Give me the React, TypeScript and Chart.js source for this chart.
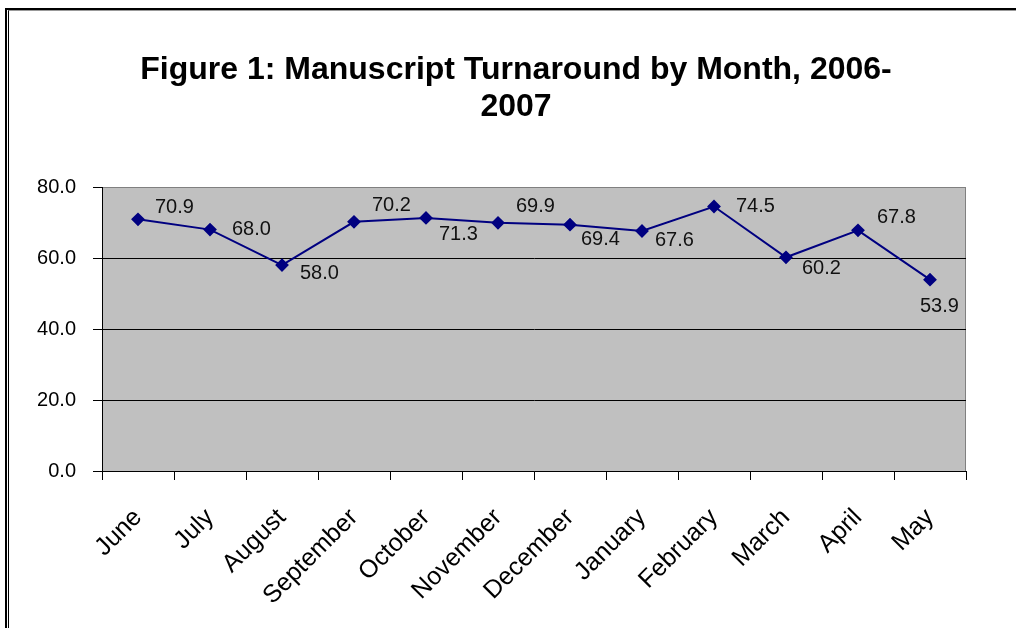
import React, { useEffect, useRef } from "react";
import { Chart, registerables } from "chart.js";

Chart.register(...registerables);

const months = ["June", "July", "August", "September", "October", "November", "December", "January", "February", "March", "April", "May"];
const turnaround = [70.9, 68.0, 58.0, 70.2, 71.3, 69.9, 69.4, 67.6, 74.5, 60.2, 67.8, 53.9];
const titleLines = ["Figure 1: Manuscript Turnaround by Month, 2006-", "2007"];
// label placement relative to each point: [dx to left edge, dy to text middle]
const labelOffsets: [number, number][] = [
  [17, -12], [22, 0], [18, 8], [18, -16], [13, 17], [18, -16],
  [11, 15], [13, 9], [22, 0], [16, 11], [19, -13], [-10, 27],
];

const FONT = "'Liberation Sans', Arial, sans-serif";

const plotBg = {
  id: "plotBg",
  beforeDraw(chart: any) {
    const { ctx, chartArea: a } = chart;
    ctx.save();
    ctx.fillStyle = "#C0C0C0";
    ctx.fillRect(a.left, a.top, a.right - a.left, a.bottom - a.top);
    ctx.strokeStyle = "#808080";
    ctx.lineWidth = 1;
    ctx.beginPath();
    ctx.moveTo(a.left, a.top + 0.5);
    ctx.lineTo(a.right - 0.5, a.top + 0.5);
    ctx.lineTo(a.right - 0.5, a.bottom);
    ctx.stroke();
    ctx.restore();
  },
};

const chartTitle = {
  id: "chartTitle",
  afterDraw(chart: any) {
    const { ctx } = chart;
    ctx.save();
    ctx.font = `bold 32px ${FONT}`;
    ctx.fillStyle = "#000";
    ctx.textAlign = "center";
    ctx.textBaseline = "alphabetic";
    titleLines.forEach((line, i) => ctx.fillText(line, 516, 79 + i * 37));
    ctx.restore();
  },
};

const valueLabels = {
  id: "valueLabels",
  afterDatasetsDraw(chart: any) {
    const { ctx } = chart;
    const meta = chart.getDatasetMeta(0);
    ctx.save();
    ctx.font = `20px ${FONT}`;
    ctx.fillStyle = "#111";
    ctx.textAlign = "left";
    ctx.textBaseline = "middle";
    meta.data.forEach((pt: any, i: number) => {
      const v = turnaround[i];
      const [dx, dy] = labelOffsets[i];
      ctx.fillText(v.toFixed(1), pt.x + dx, pt.y + dy);
    });
    ctx.restore();
  },
};

export default function App() {
  const ref = useRef<HTMLCanvasElement>(null);
  useEffect(() => {
    if (!ref.current) return;
    const chart = new Chart(ref.current, {
      type: "line",
      data: {
        labels: months,
        datasets: [
          {
            data: turnaround,
            borderColor: "#000080",
            backgroundColor: "#000080",
            borderWidth: 2,
            pointStyle: "rectRot",
            pointRadius: 5.5,
            pointBackgroundColor: "#000080",
            pointBorderColor: "#000080",
            tension: 0,
          },
        ],
      },
      options: {
        animation: false,
        responsive: false,
        layout: { padding: { left: 20, right: 50, top: 187, bottom: 0 } },
        plugins: {
          legend: { display: false },
          tooltip: { enabled: false },
          title: { display: false },
        },
        scales: {
          x: {
            offset: true,
            grid: {
              offset: true,
              drawOnChartArea: false,
              drawTicks: true,
              tickLength: 9,
              color: "#000",
            },
            border: { display: true, color: "#000", width: 1 },
            ticks: {
              minRotation: 45,
              maxRotation: 45,
              color: "#000",
              padding: 23,
              font: { family: FONT, size: 25 },
              autoSkip: false,
            },
            afterFit(scale: any) {
              scale.height = 157;
            },
          },
          y: {
            min: 0,
            max: 80,
            grid: {
              color: (c: any) => (c.tick && c.tick.value === 80 ? "#808080" : "#000"),
              tickColor: "#000",
              tickLength: 9,
              lineWidth: 1,
            },
            border: { display: true, color: "#000", width: 1 },
            ticks: {
              stepSize: 20,
              color: "#000",
              padding: 17,
              font: { family: FONT, size: 20 },
              callback: (v: any) => Number(v).toFixed(1),
            },
            afterFit(scale: any) {
              scale.width = 82;
            },
          },
        },
      },
      plugins: [plotBg, valueLabels, chartTitle],
    });
    return () => chart.destroy();
  }, []);

  return (
    <div style={{ position: "absolute", left: 0, top: 0, width: 1016, height: 628, background: "#fff", overflow: "hidden" }}>
      <canvas ref={ref} width={1016} height={628} style={{ position: "absolute", left: 0, top: 0 }} />
      <div style={{ position: "absolute", left: 5, top: 8, right: 0, bottom: 0, borderLeft: "2px solid #000", borderTop: "2px solid #000", pointerEvents: "none" }} />
      <div style={{ position: "absolute", left: 8, top: 10, right: 0, bottom: 0, borderLeft: "1px solid #000", borderTop: "1px solid #999", pointerEvents: "none" }} />
    </div>
  );
}
